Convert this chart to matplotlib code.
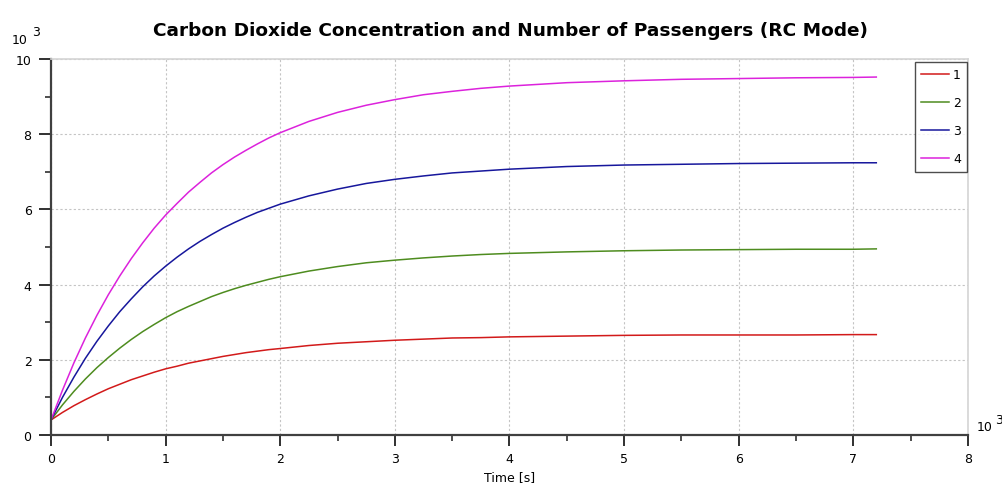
import matplotlib
matplotlib.use("Agg")
import matplotlib.pyplot as plt
from matplotlib.ticker import MultipleLocator

# Time in 10^3 s
time = [0.0, 0.1, 0.2, 0.3, 0.4, 0.5, 0.6, 0.7, 0.8, 0.9, 1.0,
        1.1, 1.2, 1.3, 1.4, 1.5, 1.6, 1.7, 1.8, 1.9, 2.0,
        2.25, 2.5, 2.75, 3.0, 3.25, 3.5, 3.75, 4.0,
        4.5, 5.0, 5.5, 6.0, 6.5, 7.0, 7.2]
# CO2 concentration in 10^3 units
series_1 = [0.40, 0.60, 0.78, 0.94, 1.09, 1.23, 1.35, 1.47, 1.57, 1.67, 1.76,
            1.83, 1.91, 1.97, 2.03, 2.09, 2.14, 2.19, 2.23, 2.27, 2.30,
            2.38, 2.44, 2.48, 2.52, 2.55, 2.58, 2.59, 2.61,
            2.63, 2.65, 2.66, 2.66, 2.66, 2.67, 2.67]
series_2 = [0.40, 0.80, 1.16, 1.49, 1.79, 2.06, 2.31, 2.54, 2.75, 2.94, 3.12,
            3.28, 3.42, 3.55, 3.68, 3.79, 3.89, 3.98, 4.06, 4.14, 4.21,
            4.36, 4.48, 4.58, 4.65, 4.71, 4.76, 4.80, 4.83,
            4.87, 4.90, 4.92, 4.93, 4.94, 4.94, 4.95]
series_3 = [0.40, 1.00, 1.54, 2.04, 2.49, 2.90, 3.28, 3.62, 3.94, 4.23, 4.49,
            4.73, 4.95, 5.15, 5.33, 5.50, 5.65, 5.79, 5.92, 6.03, 6.14,
            6.36, 6.54, 6.69, 6.80, 6.89, 6.97, 7.02, 7.07,
            7.14, 7.18, 7.20, 7.22, 7.23, 7.24, 7.24]
series_4 = [0.40, 1.19, 1.92, 2.58, 3.18, 3.73, 4.23, 4.69, 5.11, 5.50, 5.85,
            6.16, 6.46, 6.72, 6.97, 7.19, 7.39, 7.57, 7.74, 7.90, 8.04,
            8.34, 8.58, 8.77, 8.92, 9.05, 9.14, 9.22, 9.28,
            9.37, 9.42, 9.46, 9.48, 9.50, 9.51, 9.52]
labels = ["1", "2", "3", "4"]
colors = ["#d21a1a", "#4e8c1f", "#17179c", "#dc22dc"]

title = "Carbon Dioxide Concentration and Number of Passengers (RC Mode)"
xlabel = "Time [s]"

W, H = 1003, 485
fig = plt.figure(figsize=(W / 100, H / 100), dpi=100)
ax = fig.add_axes([51 / W, 49 / H, (968 - 51) / W, (436 - 60) / H])

for ys, lab, c in zip([series_1, series_2, series_3, series_4], labels, colors):
    ax.plot(time, ys, color=c, lw=1.1, label=lab)

ax.set_xlim(0, 8)
ax.set_ylim(0, 10)
ax.xaxis.set_major_locator(MultipleLocator(1))
ax.xaxis.set_minor_locator(MultipleLocator(0.5))
ax.yaxis.set_major_locator(MultipleLocator(2))
ax.yaxis.set_minor_locator(MultipleLocator(1))
ax.grid(True, which="major", color="#c4c4c4", ls=(0, (2, 2)), lw=0.8)

for s in ["left", "bottom"]:
    ax.spines[s].set_color("#404040")
    ax.spines[s].set_linewidth(1.6)
for s in ["top", "right"]:
    ax.spines[s].set_color("#d4d4d4")
    ax.spines[s].set_linewidth(1.2)

ax.tick_params(axis="x", which="major", length=8, width=1.4, color="#303030",
               labelsize=9, pad=4)
ax.tick_params(axis="x", which="minor", length=4.5, width=1.2, color="#303030")
ax.tick_params(axis="y", which="major", length=9, width=1.4, color="#303030",
               labelsize=9, pad=5)
ax.tick_params(axis="y", which="minor", length=4.5, width=1.2, color="#303030")

ax.set_xlabel(xlabel, fontsize=9, labelpad=4)
fig.text(510.5 / W, 1 - 31 / H, title, ha="center", va="center",
         fontsize=13.3, fontweight="bold")

# axis multipliers
fig.text(12 / W, 1 - 40 / H, "10", fontsize=9, va="center", ha="left")
fig.text(32 / W, 1 - 32 / H, "3", fontsize=9, va="center", ha="left")
fig.text(977 / W, 1 - 428 / H, "10", fontsize=9, va="center", ha="left")
fig.text(995 / W, 1 - 421 / H, "3", fontsize=9, va="center", ha="left")

leg = ax.legend(loc="upper right", bbox_to_anchor=(0.999, 0.992), borderaxespad=0,
                fontsize=9, frameon=True, fancybox=False, handlelength=2.2,
                handletextpad=0.35, labelspacing=1.2, borderpad=0.5)
leg.get_frame().set_edgecolor("#202020")
leg.get_frame().set_linewidth(1.0)

fig.savefig("out.png", dpi=100)
